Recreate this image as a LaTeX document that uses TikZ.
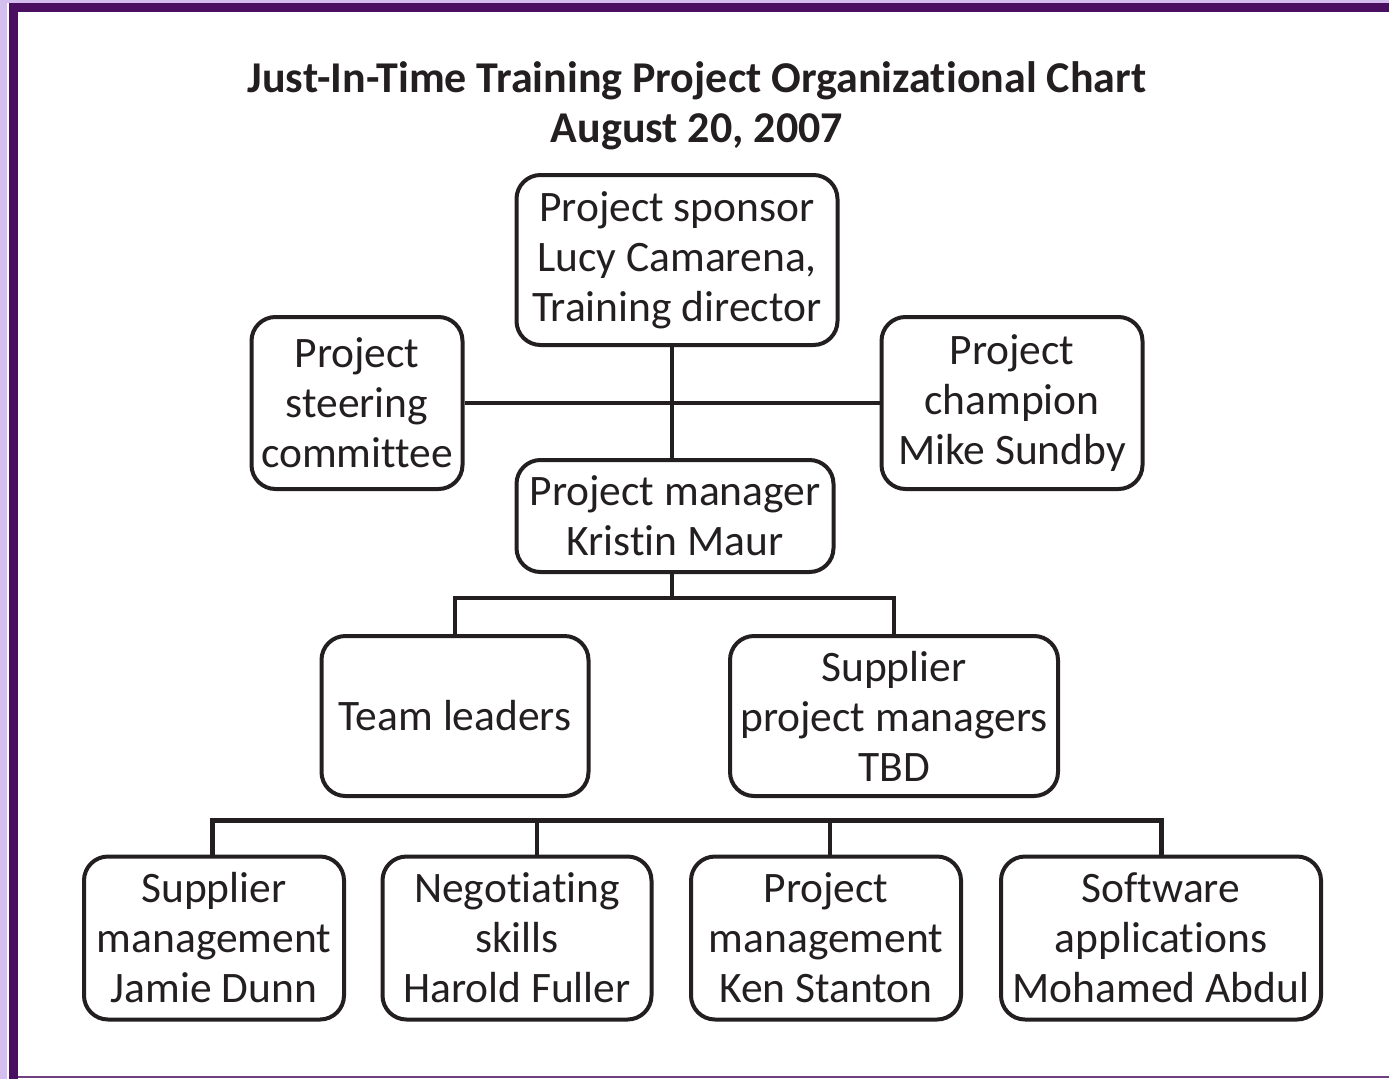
\documentclass[tikz,border=0pt]{standalone}
\usepackage{fontspec}
\setmainfont{Carlito}[Ligatures={NoCommon}]
\usetikzlibrary{positioning}

\definecolor{ink}{HTML}{231F20}
\definecolor{framedark}{HTML}{4B0F62}
\definecolor{framelight}{HTML}{D4BEF0}

\tikzset{
  orgbox/.style={draw=ink,line width=4pt,rounded corners=24pt,align=center,
    text=ink,inner sep=0pt,font=\fontsize{43.5}{50}\selectfont},
  orgline/.style={draw=ink,line width=4pt},
}

\begin{document}
\begin{tikzpicture}[x=1pt,y=-1pt]
  \useasboundingbox (0,0) rectangle (1389,1079);

  % page frame
  \fill[framelight] (0,0) rectangle (7,1079);
  \fill[framelight] (7,0) rectangle (1389,3);
  \fill[framedark] (9,3) rectangle (18,1079);
  \fill[framedark] (18,3) rectangle (1389,12);
  \fill[framedark!80] (18,1076) rectangle (1389,1078);

  \node[text=ink,align=center,font=\bfseries\fontsize{44}{50}\selectfont] (title) at (697,106)
    {Just-In-Time Training Project Organizational Chart\\August 20, 2007};

  % top of the chart
  \node[orgbox,minimum width=321pt,minimum height=170pt] (sponsor) at (677,260)
    {Project sponsor\\Lucy Camarena,\\Training director};
  \node[orgbox,minimum width=211pt,minimum height=172pt] (steering) at (357,403)
    {Project\\steering\\committee};
  \node[orgbox,minimum width=261pt,minimum height=172pt] (champion) at (1012,403)
    {Project\\champion\\Mike Sundby};
  \node[orgbox,minimum width=317pt,minimum height=112pt] (manager) at (675,516)
    {Project manager\\Kristin Maur};

  % second level
  \node[orgbox,minimum width=267pt,minimum height=160pt] (team) at (455,716)
    {Team leaders};
  \node[orgbox,minimum width=328pt,minimum height=160pt] (supplier) at (894,716)
    {Supplier\\project managers\\TBD};

  % training areas
  \foreach \name/\x/\w/\txt in {
      supmgmt/214/260/{Supplier\\management\\Jamie Dunn},
      negot/517/269/{Negotiating\\skills\\Harold Fuller},
      projmgmt/826/270/{Project\\management\\Ken Stanton},
      software/1161/320/{Software\\applications\\Mohamed Abdul}} {
    \node[orgbox,minimum width=\w pt,minimum height=163pt] (\name) at (\x,938) {\txt};
  }

  \coordinate (hub) at (672,405);
  \coordinate (split) at (672,598);
  \coordinate (bus) at (0,820);

  \draw[orgline] (sponsor.south -| hub) -- (manager.north -| hub);
  \draw[orgline] (steering.east) -- (champion.west);
  \draw[orgline] (manager.south -| split) -- (split);
  \draw[orgline] (team.north) |- (split) -| (supplier.north);

  \draw[orgline,line width=5pt] ([xshift=-2pt]supmgmt.north) |- (software.north |- bus) -- (software.north);
  \draw[orgline] ([xshift=20pt]negot.north) -- ([xshift=20pt]negot.north |- bus);
  \draw[orgline] ([xshift=4pt]projmgmt.north) -- ([xshift=4pt]projmgmt.north |- bus);
\end{tikzpicture}
\end{document}
